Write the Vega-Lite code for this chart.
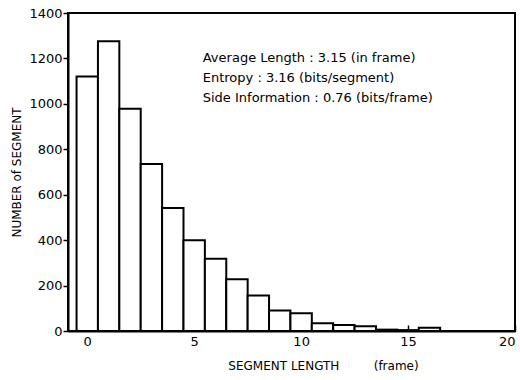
{
  "$schema": "https://vega.github.io/schema/vega-lite/v6.json",
  "autosize": {"type": "none"},
  "width": 447,
  "height": 318,
  "padding": {"left": 68, "top": 13, "right": 5, "bottom": 49},
  "background": "white",
  "config": {
    "view": {"stroke": "black", "strokeWidth": 2},
    "font": "DejaVu Sans",
    "axis": {
      "domainColor": "black", "domainWidth": 2, "tickColor": "black", "tickWidth": 1.5,
      "labelColor": "black", "titleColor": "black", "grid": false,
      "labelFont": "DejaVu Sans", "titleFont": "DejaVu Sans", "labelFontSize": 13, "titleFontSize": 12, "titleFontWeight": "normal"
    }
  },
  "datasets": {
    "bins": [
      {"length": 0, "start": -0.5, "end": 0.5, "count": 1120},
      {"length": 1, "start": 0.5, "end": 1.5, "count": 1276},
      {"length": 2, "start": 1.5, "end": 2.5, "count": 978},
      {"length": 3, "start": 2.5, "end": 3.5, "count": 735},
      {"length": 4, "start": 3.5, "end": 4.5, "count": 542},
      {"length": 5, "start": 4.5, "end": 5.5, "count": 400},
      {"length": 6, "start": 5.5, "end": 6.5, "count": 318},
      {"length": 7, "start": 6.5, "end": 7.5, "count": 228},
      {"length": 8, "start": 7.5, "end": 8.5, "count": 156},
      {"length": 9, "start": 8.5, "end": 9.5, "count": 90},
      {"length": 10, "start": 9.5, "end": 10.5, "count": 78},
      {"length": 11, "start": 10.5, "end": 11.5, "count": 34},
      {"length": 12, "start": 11.5, "end": 12.5, "count": 26},
      {"length": 13, "start": 12.5, "end": 13.5, "count": 21},
      {"length": 14, "start": 13.5, "end": 14.5, "count": 6},
      {"length": 15, "start": 14.5, "end": 15.5, "count": 4},
      {"length": 16, "start": 15.5, "end": 16.5, "count": 14}
    ],
    "notes": [
      {"x": 5.4, "y": 1200, "label": "Average Length : 3.15 (in frame)"},
      {"x": 5.4, "y": 1112, "label": "Entropy : 3.16 (bits/segment)"},
      {"x": 5.4, "y": 1024, "label": "Side Information : 0.76 (bits/frame)"}
    ]
  },
  "layer": [
    {
      "data": {"name": "bins"},
      "mark": {"type": "bar", "fill": "white", "stroke": "black", "strokeWidth": 2},
      "encoding": {
        "x": {
          "field": "start", "type": "quantitative",
          "scale": {"domain": [-0.9, 20], "nice": false, "zero": false},
          "axis": {
            "values": [0, 5, 10, 15, 20], "tickSize": -6, "labelPadding": 10,
            "title": "SEGMENT LENGTH\u00a0\u00a0\u00a0\u00a0\u00a0\u00a0\u00a0\u00a0\u00a0(frame)",
            "titlePadding": 12, "titleX": 255, "titleAnchor": "middle"
          }
        },
        "x2": {"field": "end"},
        "y": {
          "field": "count", "type": "quantitative",
          "scale": {"domain": [0, 1400], "nice": false},
          "axis": {
            "values": [0, 200, 400, 600, 800, 1000, 1200, 1400], "format": "d", "tickSize": 5, "labelPadding": 1,
            "title": "NUMBER of SEGMENT", "titlePadding": 5
          }
        },
        "y2": {"datum": 0}
      }
    },
    {
      "data": {"name": "notes"},
      "mark": {"type": "text", "align": "left", "baseline": "middle", "fontSize": 13, "font": "DejaVu Sans", "color": "black"},
      "encoding": {
        "x": {"field": "x", "type": "quantitative"},
        "y": {"field": "y", "type": "quantitative"},
        "text": {"field": "label"}
      }
    }
  ]
}
